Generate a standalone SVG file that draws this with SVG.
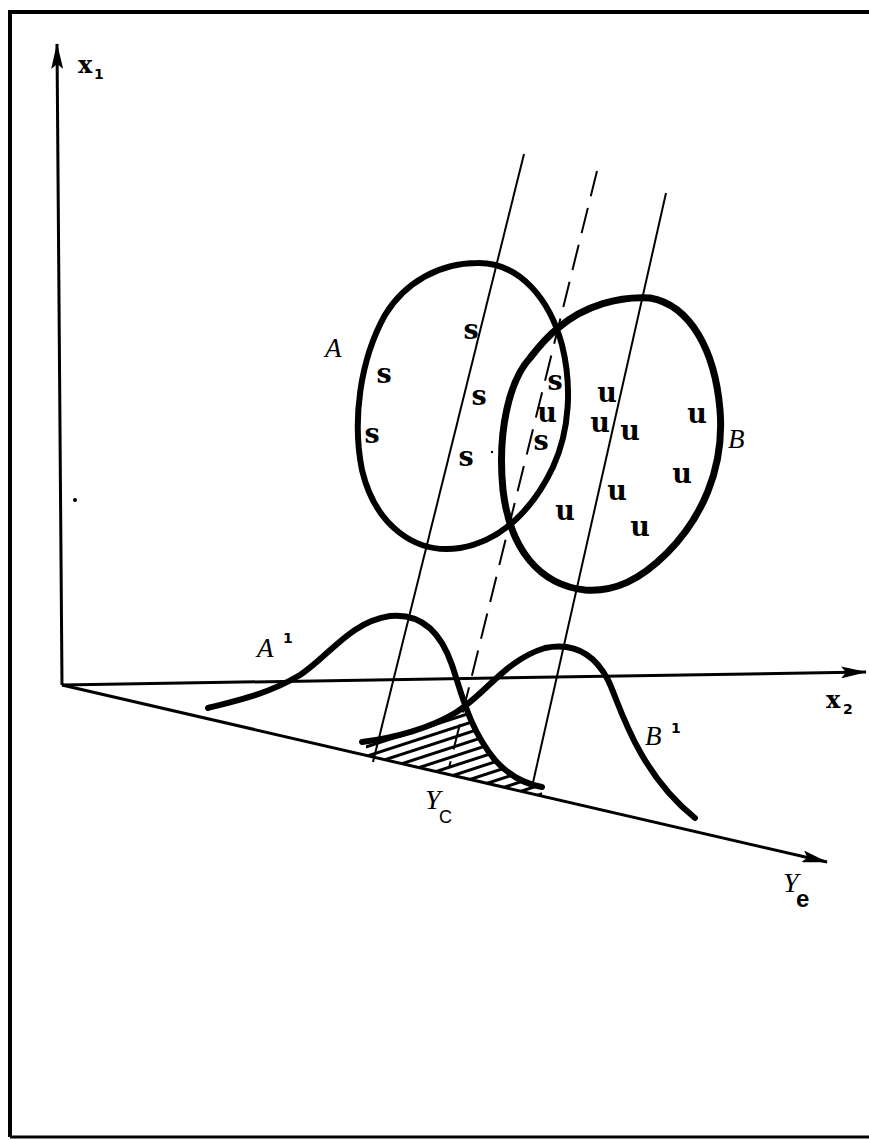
<svg xmlns="http://www.w3.org/2000/svg" width="869" height="1140" viewBox="0 0 869 1140">
<style>
.frame{fill:none;stroke:#000;stroke-width:4}
.axis{fill:none;stroke:#000;stroke-width:3}
.proj{fill:none;stroke:#000;stroke-width:2}
.dash{fill:none;stroke:#000;stroke-width:2;stroke-dasharray:26 12}
.ring{fill:none;stroke:#000;stroke-width:6;stroke-linejoin:round}
.curve{fill:none;stroke:#000;stroke-width:6;stroke-linecap:round;stroke-linejoin:round}
.pt{font-family:"DejaVu Serif",serif;font-weight:bold;font-size:27px;text-anchor:middle}
.lbl{font-family:"Liberation Serif",serif;font-style:italic;font-size:27px}
.ax{font-family:"DejaVu Serif",serif;font-weight:bold;font-size:24px}
.sub{font-family:"DejaVu Sans",sans-serif;font-weight:bold;font-size:14px}
</style>
<defs>
<marker id="arr" markerUnits="userSpaceOnUse" markerWidth="26" markerHeight="12" refX="25" refY="6" orient="auto">
<path d="M0,0 L26,6 L0,12 L5,6 Z" fill="#000"/>
</marker>
<pattern id="hatch" width="20" height="9" patternUnits="userSpaceOnUse" patternTransform="rotate(-18)">
<line x1="0" y1="4.5" x2="20" y2="4.5" stroke="#000" stroke-width="3"/>
</pattern>
</defs>
<g id="frame">
<path class="frame" d="M10,1137 L10,12 L869,12"/>
<path d="M10,1137 L869,1137" stroke="#000" stroke-width="3"/>
</g>
<g id="connectors">
<line class="axis" x1="62" y1="685" x2="57" y2="44" marker-end="url(#arr)"/>
<line class="axis" x1="62" y1="685" x2="866" y2="672" marker-end="url(#arr)"/>
<line class="axis" x1="62" y1="685" x2="827" y2="862" marker-end="url(#arr)"/>
<line class="proj" x1="524" y1="154" x2="373" y2="762"/>
<line class="dash" x1="597" y1="171" x2="449" y2="768"/>
<line class="proj" x1="666" y1="193" x2="532" y2="787"/>
</g>
<g id="hatched-area">
<path d="M366,742 C395,738 430,728 455,713 L466,706 C470,728 480,748 495,760 C510,777 525,784 542,790 L542,796 L366,756 Z" fill="url(#hatch)"/>
</g>
<g id="ellipse-A">
<path class="ring" d="M477,263 C520,262 550,300 562,345 C572,385 570,430 553,467 C535,505 505,540 460,548 C415,555 375,525 362,470 C352,420 360,360 385,315 C405,282 440,263 477,263 Z"/>
</g>
<g id="ellipse-B">
<path class="ring" style="stroke-width:7" d="M558,328 C585,305 620,296 650,298 C690,305 715,350 720,410 C725,470 700,520 667,553 C640,580 615,592 585,590 C540,585 510,550 503,490 C497,430 510,380 530,358 C540,345 548,336 558,328 Z"/>
</g>
<g id="curve-A1">
<path class="curve" d="M208,708 C240,700 270,693 300,675 C330,655 350,622 390,616 C420,613 440,630 452,665 C462,695 470,730 495,760 C510,777 525,784 542,787"/>
</g>
<g id="curve-B1">
<path class="curve" d="M362,742 C395,738 430,728 455,713 C485,695 505,660 545,648 C575,642 595,655 608,680 C618,699 635,770 695,818"/>
</g>
<g id="points-s">
<text class="pt" x="471" y="339">s</text>
<text class="pt" x="384" y="383">s</text>
<text class="pt" x="479" y="405">s</text>
<text class="pt" x="372" y="443">s</text>
<text class="pt" x="466" y="466">s</text>
<text class="pt" x="555" y="390">s</text>
<text class="pt" x="547" y="422">u</text>
<text class="pt" x="541" y="450">s</text>
</g>
<g id="points-u">
<text class="pt" x="607" y="402">u</text>
<text class="pt" x="600" y="432">u</text>
<text class="pt" x="630" y="440">u</text>
<text class="pt" x="697" y="423">u</text>
<text class="pt" x="682" y="483">u</text>
<text class="pt" x="617" y="500">u</text>
<text class="pt" x="565" y="520">u</text>
<text class="pt" x="640" y="536">u</text>
</g>
<g id="labels">
<text class="lbl" x="325" y="357">A</text>
<text class="lbl" x="728" y="448">B</text>
<text class="lbl" x="257" y="657">A</text>
<text class="sub" x="283" y="643">1</text>
<text class="lbl" x="645" y="745">B</text>
<text class="sub" x="671" y="733">1</text>
<text class="ax" x="78" y="73">x</text>
<text class="sub" x="94" y="79">1</text>
<text class="ax" x="826" y="708">x</text>
<text class="sub" x="843" y="714">2</text>
<text class="lbl" x="425" y="809" style="font-size:28px">Y</text>
<text x="439" y="823" style="font-family:'Liberation Sans',sans-serif;font-size:18px">C</text>
<text class="lbl" x="783" y="892" style="font-size:28px">Y</text>
<text x="796" y="907" style="font-family:'Liberation Sans',sans-serif;font-weight:bold;font-size:24px">e</text>
</g>
<g id="specks">
<circle cx="75" cy="500" r="2"/>
<circle cx="492" cy="452" r="1.2"/>
</g>
</svg>
